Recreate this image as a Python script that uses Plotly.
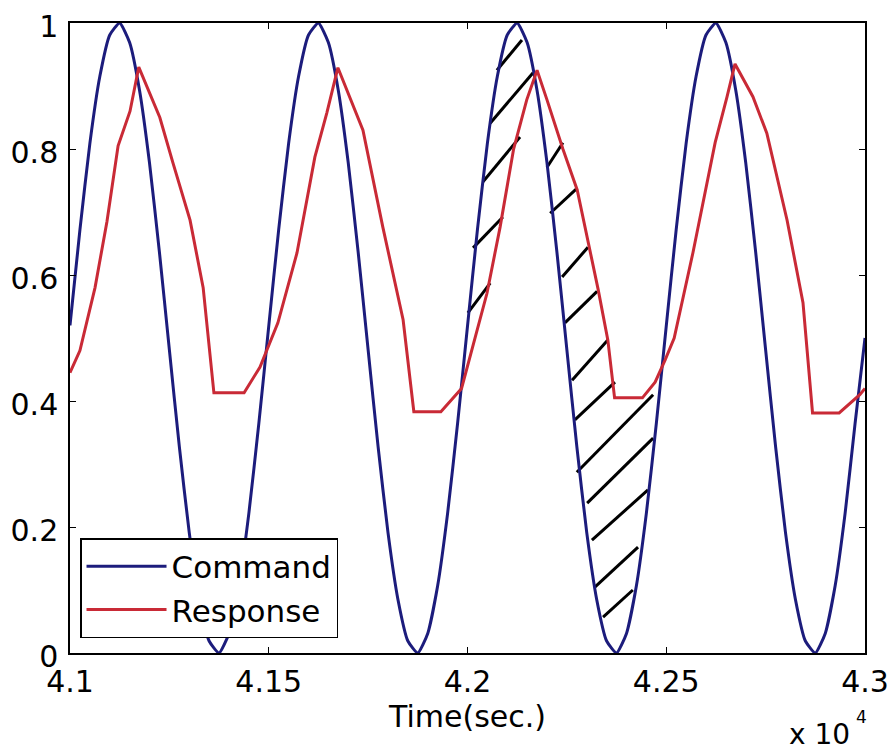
import plotly.graph_objects as go

# ---------------- data ----------------
command_time = [41000, 41025, 41050, 41075, 41100, 41125, 41150, 41175, 41200, 41225,
                41250, 41275, 41300, 41325, 41350, 41375, 41400, 41425, 41450, 41475,
                41500, 41525, 41550, 41575, 41600, 41625, 41650, 41675, 41700, 41725,
                41750, 41775, 41800, 41825, 41850, 41875, 41900, 41925, 41950, 41975,
                42000, 42025, 42050, 42075, 42100, 42125, 42150, 42175, 42200, 42225,
                42250, 42275, 42300, 42325, 42350, 42375, 42400, 42425, 42450, 42475,
                42500, 42525, 42550, 42575, 42600, 42625, 42650, 42675, 42700, 42725,
                42750, 42775, 42800, 42825, 42850, 42875, 42900, 42925, 42950, 42975,
                43000]
command_value = [0.52, 0.672, 0.809, 0.915, 0.981, 1.000, 0.969, 0.893, 0.778, 0.636,
                 0.481, 0.328, 0.191, 0.085, 0.019, 0.000, 0.031, 0.107, 0.222, 0.364,
                 0.519, 0.672, 0.809, 0.915, 0.981, 1.000, 0.969, 0.893, 0.778, 0.636,
                 0.481, 0.328, 0.191, 0.085, 0.019, 0.000, 0.031, 0.107, 0.222, 0.364,
                 0.519, 0.672, 0.809, 0.915, 0.981, 1.000, 0.969, 0.893, 0.778, 0.636,
                 0.481, 0.328, 0.191, 0.085, 0.019, 0.000, 0.031, 0.107, 0.222, 0.364,
                 0.519, 0.672, 0.809, 0.915, 0.981, 1.000, 0.969, 0.893, 0.778, 0.636,
                 0.481, 0.328, 0.191, 0.085, 0.019, 0.000, 0.031, 0.107, 0.222, 0.364,
                 0.50]

response_time = [41000, 41025, 41063, 41093, 41121, 41151, 41173, 41189, 41226, 41259,
                 41302, 41335, 41362, 41438, 41478, 41523, 41571, 41616, 41646, 41674,
                 41704, 41737, 41787, 41838, 41865, 41933, 41985, 42049, 42082, 42116,
                 42149, 42175, 42200, 42240, 42276, 42303, 42329, 42353, 42370, 42440,
                 42472, 42497, 42520, 42567, 42623, 42653, 42673, 42718, 42753, 42804,
                 42844, 42868, 42935, 42987, 43000]
response_value = [0.445, 0.48, 0.58, 0.685, 0.805, 0.86, 0.93, 0.905, 0.85, 0.778,
                  0.687, 0.58, 0.413, 0.413, 0.454, 0.524, 0.635, 0.787, 0.857, 0.929,
                  0.883, 0.83, 0.676, 0.529, 0.383, 0.383, 0.42, 0.571, 0.676, 0.80,
                  0.878, 0.925, 0.878, 0.80, 0.735, 0.655, 0.576, 0.497, 0.405, 0.405,
                  0.43, 0.465, 0.50, 0.635, 0.81, 0.883, 0.935, 0.883, 0.825, 0.687,
                  0.556, 0.381, 0.381, 0.41, 0.42]

# hand-drawn hatch strokes between the two curves (start/end time and value)
hatch_t0 = [42074, 42057, 42039, 42014, 42001,
            42200, 42208, 42238, 42245, 42263, 42270, 42275, 42301, 42313, 42321, 42341]
hatch_v0 = [0.925, 0.841, 0.748, 0.643, 0.540,
            0.771, 0.698, 0.597, 0.524, 0.433, 0.370, 0.287, 0.238, 0.179, 0.105, 0.057]
hatch_t1 = [42137, 42165, 42132, 42089, 42057,
            42240, 42276, 42303, 42326, 42353, 42371, 42467, 42467, 42454, 42429, 42416]
hatch_v1 = [0.973, 0.921, 0.819, 0.692, 0.587,
            0.810, 0.738, 0.644, 0.574, 0.497, 0.430, 0.410, 0.341, 0.259, 0.168, 0.100]

x_tick_vals = [41000, 41500, 42000, 42500, 43000]
x_tick_text = ["4.1", "4.15", "4.2", "4.25", "4.3"]
y_tick_vals = [0, 0.2, 0.4, 0.6, 0.8, 1]
y_tick_text = ["0", "0.2", "0.4", "0.6", "0.8", "1"]

# ---------------- figure ----------------
FONT = "DejaVu Sans"
BLUE = "#1c1c7c"
RED = "#c92a36"

hx, hy = [], []
for a, b, c, d in zip(hatch_t0, hatch_v0, hatch_t1, hatch_v1):
    hx += [a, c, None]
    hy += [b, d, None]

fig = go.Figure()
fig.add_trace(go.Scatter(x=hx, y=hy, mode="lines", line=dict(color="black", width=3),
                         showlegend=False, hoverinfo="skip"))
fig.add_trace(go.Scatter(x=command_time, y=command_value, mode="lines", name="Command",
                         line=dict(color=BLUE, width=3, shape="spline", smoothing=0.5)))
fig.add_trace(go.Scatter(x=response_time, y=response_value, mode="lines", name="Response",
                         line=dict(color=RED, width=3)))

axis_common = dict(showline=True, linecolor="black", linewidth=1.5, mirror="ticks",
                   ticks="inside", ticklen=6, tickcolor="black", tickwidth=1,
                   showgrid=False, zeroline=False, automargin=False,
                   tickfont=dict(family=FONT, size=30, color="black"))

fig.update_xaxes(range=[41000, 43000], tickvals=x_tick_vals, ticktext=x_tick_text,
                 ticklabelstandoff=1,
                 title=dict(text="Time(sec.)", font=dict(family=FONT, size=30, color="black"),
                            standoff=6),
                 **axis_common)
fig.update_yaxes(range=[0, 1], tickvals=y_tick_vals, ticktext=y_tick_text,
                 ticklabelstandoff=4, ticklabelshift=3, **axis_common)

fig.add_annotation(xref="paper", yref="paper", x=0.984, y=-0.1286, xanchor="right",
                   yanchor="middle", text="x 10", showarrow=False,
                   font=dict(family=FONT, size=28, color="black"))
fig.add_annotation(xref="paper", yref="paper", x=0.996, y=-0.1016, xanchor="center",
                   yanchor="middle", text="4", showarrow=False,
                   font=dict(family=FONT, size=17, color="black"))

fig.update_layout(
    width=894, height=753,
    margin=dict(l=70, r=29, t=23, b=100, autoexpand=False),
    paper_bgcolor="white", plot_bgcolor="white",
    font=dict(family=FONT, color="black"),
    legend=dict(x=0.0126, y=0.1825, xanchor="left", yanchor="top",
                bgcolor="white", bordercolor="black", borderwidth=1.5,
                font=dict(family=FONT, size=31, color="black"),
                itemwidth=80, tracegroupgap=0),
)

fig.write_html("out.html")
